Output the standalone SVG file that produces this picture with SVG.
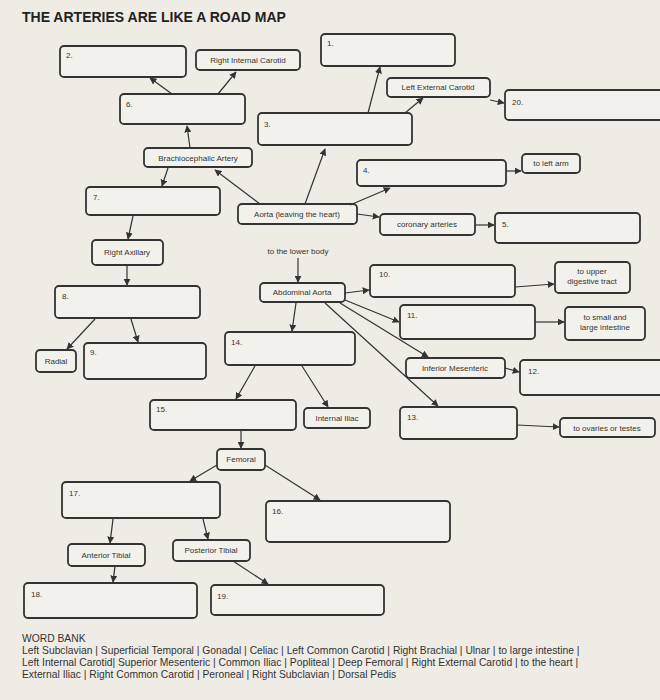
<svg xmlns="http://www.w3.org/2000/svg" width="660" height="700" viewBox="0 0 660 700">
<style>
.b{fill:#f3f1ec;stroke:#333;stroke-width:1.8}
.t{font-family:"Liberation Sans",Arial,sans-serif;font-size:8px;fill:#333}
.n{font-family:"Liberation Sans",Arial,sans-serif;font-size:8px;fill:#333}
.c line{stroke:#333;stroke-width:1.2;marker-end:url(#a)}
.w{font-family:"Liberation Sans",Arial,sans-serif;font-size:10.3px;fill:#333}
</style>
<defs><marker id="a" viewBox="0 0 10 10" refX="9" refY="5" markerWidth="7" markerHeight="7" orient="auto" markerUnits="userSpaceOnUse"><path d="M0,0L10,5L0,10z" fill="#333"/></marker></defs>
<rect width="660" height="700" fill="#efece6"/>
<text x="22" y="22" font-family="Liberation Sans,Arial,sans-serif" font-size="14" font-weight="bold" fill="#222">THE ARTERIES ARE LIKE A ROAD MAP</text>
<g id="n2"><rect class="b" x="60" y="46" width="126" height="31" rx="4"/><text class="n" x="66" y="58">2.</text></g>
<g id="nRIC"><rect class="b" x="196" y="50" width="104" height="20" rx="4"/><text class="t" x="248" y="63" text-anchor="middle">Right Internal Carotid</text></g>
<g id="n1"><rect class="b" x="321" y="34" width="134" height="32" rx="4"/><text class="n" x="327" y="46">1.</text></g>
<g id="nLEC"><rect class="b" x="387" y="78" width="103" height="19" rx="4"/><text class="t" x="438" y="90" text-anchor="middle">Left External Carotid</text></g>
<g id="n20"><rect class="b" x="505" y="90" width="160" height="30" rx="4"/><text class="n" x="512" y="105">20.</text></g>
<g id="n6"><rect class="b" x="120" y="94" width="125" height="30" rx="4"/><text class="n" x="126" y="107">6.</text></g>
<g id="n3"><rect class="b" x="258" y="113" width="154" height="32" rx="4"/><text class="n" x="264" y="127">3.</text></g>
<g id="nBA"><rect class="b" x="144" y="148" width="108" height="19" rx="4"/><text class="t" x="198" y="161" text-anchor="middle">Brachiocephalic Artery</text></g>
<g id="n4"><rect class="b" x="357" y="160" width="149" height="26" rx="4"/><text class="n" x="363" y="173">4.</text></g>
<g id="nLA"><rect class="b" x="522" y="154" width="58" height="19" rx="4"/><text class="t" x="551" y="166" text-anchor="middle">to left arm</text></g>
<g id="n7"><rect class="b" x="86" y="187" width="134" height="28" rx="4"/><text class="n" x="93" y="200">7.</text></g>
<g id="nAorta"><rect class="b" x="238" y="204" width="119" height="20" rx="4"/><text class="t" x="297" y="217" text-anchor="middle">Aorta (leaving the heart)</text></g>
<g id="nCor"><rect class="b" x="380" y="214" width="95" height="21" rx="4"/><text class="t" x="427" y="227" text-anchor="middle">coronary arteries</text></g>
<g id="n5"><rect class="b" x="495" y="213" width="145" height="30" rx="4"/><text class="n" x="502" y="227">5.</text></g>
<g id="nRA"><rect class="b" x="92" y="240" width="71" height="25" rx="4"/><text class="t" x="127" y="255" text-anchor="middle">Right Axillary</text></g>
<g id="n10"><rect class="b" x="370" y="265" width="145" height="32" rx="4"/><text class="n" x="379" y="277">10.</text></g>
<g id="nUD"><rect class="b" x="555" y="262" width="75" height="31" rx="4"/><text class="t" x="592" y="274" text-anchor="middle">to upper</text><text class="t" x="592" y="284" text-anchor="middle">digestive tract</text></g>
<g id="n8"><rect class="b" x="55" y="286" width="145" height="32" rx="4"/><text class="n" x="62" y="299">8.</text></g>
<g id="nAA"><rect class="b" x="260" y="283" width="85" height="19" rx="4"/><text class="t" x="302" y="295" text-anchor="middle">Abdominal Aorta</text></g>
<g id="n11"><rect class="b" x="400" y="305" width="135" height="34" rx="4"/><text class="n" x="407" y="318">11.</text></g>
<g id="nSL"><rect class="b" x="565" y="307" width="80" height="33" rx="4"/><text class="t" x="605" y="320" text-anchor="middle">to small and</text><text class="t" x="605" y="330" text-anchor="middle">large intestine</text></g>
<g id="n14"><rect class="b" x="225" y="332" width="130" height="33" rx="4"/><text class="n" x="231" y="345">14.</text></g>
<g id="nRad"><rect class="b" x="36" y="350" width="40" height="22" rx="4"/><text class="t" x="56" y="364" text-anchor="middle">Radial</text></g>
<g id="n9"><rect class="b" x="84" y="343" width="122" height="36" rx="4"/><text class="n" x="90" y="355">9.</text></g>
<g id="nIM"><rect class="b" x="406" y="358" width="99" height="20" rx="4"/><text class="t" x="455" y="371" text-anchor="middle">Inferior Mesenteric</text></g>
<g id="n12"><rect class="b" x="520" y="360" width="145" height="35" rx="4"/><text class="n" x="528" y="374">12.</text></g>
<g id="n15"><rect class="b" x="150" y="400" width="146" height="30" rx="4"/><text class="n" x="156" y="412">15.</text></g>
<g id="nII"><rect class="b" x="304" y="408" width="66" height="20" rx="4"/><text class="t" x="337" y="421" text-anchor="middle">Internal Iliac</text></g>
<g id="n13"><rect class="b" x="400" y="407" width="117" height="32" rx="4"/><text class="n" x="407" y="420">13.</text></g>
<g id="nOT"><rect class="b" x="560" y="418" width="95" height="19" rx="4"/><text class="t" x="607" y="431" text-anchor="middle">to ovaries or testes</text></g>
<g id="nFem"><rect class="b" x="217" y="449" width="48" height="21" rx="4"/><text class="t" x="241" y="462" text-anchor="middle">Femoral</text></g>
<g id="n17"><rect class="b" x="62" y="482" width="158" height="36" rx="4"/><text class="n" x="69" y="496">17.</text></g>
<g id="n16"><rect class="b" x="266" y="501" width="184" height="41" rx="4"/><text class="n" x="272" y="514">16.</text></g>
<g id="nAT"><rect class="b" x="68" y="544" width="77" height="22" rx="4"/><text class="t" x="106" y="558" text-anchor="middle">Anterior Tibial</text></g>
<g id="nPT"><rect class="b" x="173" y="540" width="77" height="21" rx="4"/><text class="t" x="211" y="553" text-anchor="middle">Posterior Tibial</text></g>
<g id="n18"><rect class="b" x="24" y="583" width="173" height="35" rx="4"/><text class="n" x="31" y="597">18.</text></g>
<g id="n19"><rect class="b" x="211" y="585" width="173" height="30" rx="4"/><text class="n" x="217" y="599">19.</text></g>
<text class="t" x="298" y="254" text-anchor="middle">to the lower body</text>
<g class="c">
<line x1="260" y1="204" x2="215" y2="170"/>
<line x1="305" y1="204" x2="325" y2="149"/>
<line x1="350" y1="205" x2="390" y2="188"/>
<line x1="357" y1="214" x2="379" y2="217"/>
<line x1="475" y1="225" x2="494" y2="225"/>
<line x1="298" y1="258" x2="298" y2="282"/>
<line x1="190" y1="148" x2="187" y2="126"/>
<line x1="168" y1="168" x2="162" y2="186"/>
<line x1="172" y1="94" x2="150" y2="78"/>
<line x1="218" y1="94" x2="236" y2="72"/>
<line x1="368" y1="113" x2="380" y2="67"/>
<line x1="405" y1="113" x2="423" y2="98"/>
<line x1="490" y1="100" x2="504" y2="103"/>
<line x1="506" y1="171" x2="521" y2="171"/>
<line x1="133" y1="216" x2="128" y2="239"/>
<line x1="127" y1="266" x2="127" y2="285"/>
<line x1="95" y1="319" x2="67" y2="349"/>
<line x1="131" y1="319" x2="138" y2="342"/>
<line x1="345" y1="293" x2="369" y2="290"/>
<line x1="515" y1="287" x2="554" y2="284"/>
<line x1="345" y1="300" x2="399" y2="322"/>
<line x1="535" y1="322" x2="564" y2="322"/>
<line x1="340" y1="303" x2="428" y2="357"/>
<line x1="505" y1="368" x2="519" y2="372"/>
<line x1="325" y1="303" x2="438" y2="406"/>
<line x1="517" y1="425" x2="559" y2="427"/>
<line x1="296" y1="303" x2="292" y2="331"/>
<line x1="255" y1="366" x2="236" y2="399"/>
<line x1="302" y1="366" x2="328" y2="407"/>
<line x1="241" y1="431" x2="241" y2="448"/>
<line x1="217" y1="465" x2="190" y2="481"/>
<line x1="265" y1="465" x2="320" y2="500"/>
<line x1="113" y1="519" x2="110" y2="543"/>
<line x1="203" y1="519" x2="208" y2="539"/>
<line x1="115" y1="566" x2="113" y2="582"/>
<line x1="233" y1="561" x2="268" y2="584"/>
</g>
<g id="wordbank">
<text class="w" x="22" y="642">WORD BANK</text>
<text class="w" x="22" y="654">Left Subclavian | Superficial Temporal | Gonadal | Celiac | Left Common Carotid | Right Brachial | Ulnar | to large intestine |</text>
<text class="w" x="22" y="666">Left Internal Carotid| Superior Mesenteric | Common Iliac | Popliteal | Deep Femoral | Right External Carotid | to the heart |</text>
<text class="w" x="22" y="678">External Iliac | Right Common Carotid | Peroneal | Right Subclavian | Dorsal Pedis</text>
</g>
</svg>
